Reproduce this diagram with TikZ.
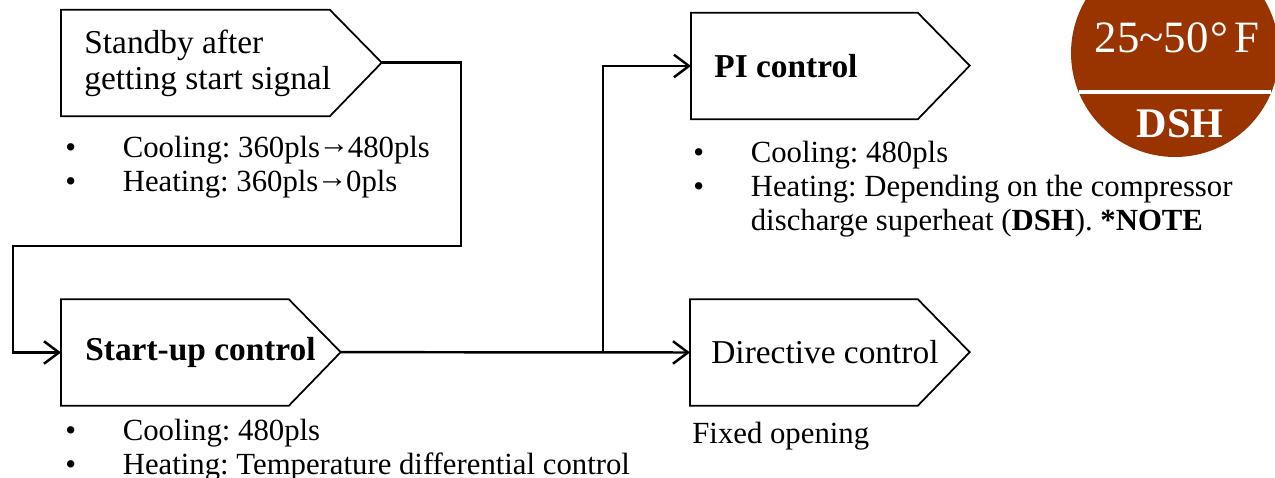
\documentclass[tikz,border=0pt]{standalone}
\usepackage{fontspec}
\setmainfont{Liberation Serif}
\usetikzlibrary{arrows, arrows.meta, positioning}
\definecolor{dshbrown}{RGB}{153,51,0}
\frenchspacing
\newcommand{\titlesize}{\fontsize{19}{20.5}\selectfont}
\newcommand{\notesize}{\fontsize{17.5}{19.5}\selectfont}
\newcommand{\bul}{\makebox[1.15cm][l]{\textbullet}}
\newcommand{\goesto}{\kern-0.05em\raisebox{0.12em}{→}\kern-0.05em}

\tikzset{
  stage/.style={minimum height=2.12cm, inner sep=0pt},
  outline/.style={draw, line width=1pt},
  title/.style={inner sep=0pt, align=left, font=\titlesize},
  flow/.style={line width=1.4pt, -{Straight Barb[length=0.3cm,width=0.45cm]}},
  notes/.style={inner sep=0pt, align=left, font=\notesize}
}

\begin{document}
\begin{tikzpicture}
\useasboundingbox (0,0) rectangle (25.5,9.56);
%\draw[step=0.5cm,gray,very thin] (0,0) grid (25.5,9.56); %background grid

% the four stages
\node[stage, minimum width=5.36cm, anchor=west] (sb) at (1.22,8.30) {};
\node[stage, minimum width=4.54cm, anchor=west] (su) at (1.22,2.51) {};
\node[stage, minimum width=4.52cm, anchor=west] (pi) at (13.82,8.24) {};
\node[stage, minimum width=4.54cm, anchor=west] (dc) at (13.80,2.51) {};
\foreach \n in {sb,su,pi,dc}
  \draw[outline] (\n.north west) -- (\n.north east) -- ++(1.04,-1.06) coordinate (\n-tip)
    -- (\n.south east) -- (\n.south west) -- cycle;

\node[title, right=0.46cm of sb.west] (sbtext) {Standby after\\getting start signal};
\node[title, right=0.48cm of su.west] (sutext) {\textbf{Start-up control}};
\node[title, right=0.46cm of pi.west] (pitext) {\textbf{PI control}};
\node[title, right=0.42cm of dc.west] (dctext) {Directive control};

% notes under the stages
\node[notes, below=0.38cm of sb.south west, anchor=north west, xshift=0.08cm] (sbnotes)
  {\bul Cooling: 360pls\goesto 480pls\\ \bul Heating: 360pls\goesto 0pls};
\node[notes, below=0.26cm of su.south west, anchor=north west, xshift=0.08cm] (sunotes)
  {\bul Cooling: 480pls\\ \bul Heating: Temperature differential control};
\node[notes, below=0.42cm of pi.south west, anchor=north west, xshift=0.04cm] (pinotes)
  {\bul Cooling: 480pls\\ \bul Heating: Depending on the compressor\\
   \hspace*{1.15cm}discharge superheat (\textbf{DSH}). \textbf{*NOTE}};
\node[notes, below=0.32cm of dc.south west, anchor=north west, xshift=0.04cm] (dcnotes)
  {Fixed opening};

% connectors
\coordinate (drop) at (9.22,4.64);
\coordinate (back) at (0.26,2.51);
\coordinate (split) at (12.06,2.51);
\draw[flow] (sb-tip) -| (drop) -| (back) -- (su.west);
\draw[flow] (su-tip) -- (dc.west);
\draw[flow] (split) |- (pi.west);

% DSH badge
\fill[dshbrown] (23.50,8.50) circle (2.08);
\draw[white, line width=2.8pt] (21.58,7.72) -- (25.42,7.72);
\node[white, anchor=base, inner sep=0pt, font=\fontsize{25.5}{26}\selectfont] (range) at (23.54,8.50)
  {25\textasciitilde 50\kern0.04em°\kern0.14em F};
\node[white, anchor=base, inner sep=0pt, font=\fontsize{24}{26}\selectfont\bfseries] (dsh) at (23.60,6.80)
  {DSH};
\end{tikzpicture}
\end{document}
